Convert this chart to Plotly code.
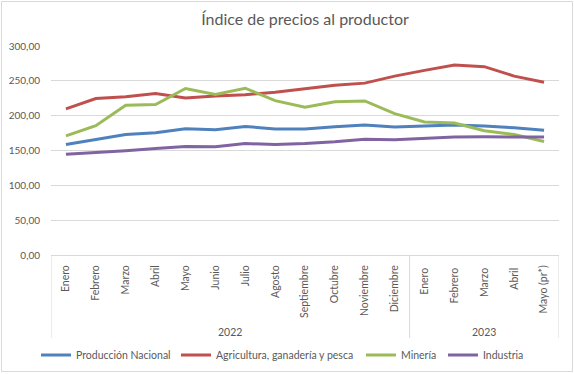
import plotly.graph_objects as go

months = ["Enero", "Febrero", "Marzo", "Abril", "Mayo", "Junio", "Julio", "Agosto",
          "Septiembre", "Octubre", "Noviembre", "Diciembre",
          "Enero ", "Febrero ", "Marzo ", "Abril ", "Mayo (pr*)"]
years = ["2022", "2023"]
year_counts = [12, 5]

produccion_nacional = [158.6, 165.4, 173.0, 175.5, 181.2, 179.8, 184.6, 180.8, 180.8,
                       184.0, 186.5, 183.7, 185.0, 186.5, 185.0, 182.6, 179.0]
agricultura = [209.7, 224.5, 227.0, 231.7, 225.5, 228.4, 230.0, 233.6, 238.5,
               243.8, 246.7, 256.8, 265.0, 272.7, 270.3, 256.8, 248.0]
mineria = [171.0, 185.5, 215.0, 216.0, 239.0, 230.3, 239.4, 221.6, 212.0,
           219.8, 221.2, 203.0, 190.9, 189.4, 178.3, 173.0, 163.0]
industria = [144.7, 146.6, 149.5, 152.8, 155.7, 155.3, 160.0, 158.6, 160.0,
             162.5, 166.3, 165.4, 167.8, 169.2, 169.7, 169.7, 169.2]

series = [
    ("Producción Nacional", produccion_nacional, "#4F81BD"),
    ("Agricultura, ganadería y pesca", agricultura, "#C0504D"),
    ("Minería", mineria, "#9BBB59"),
    ("Industria", industria, "#8064A2"),
]

FONT = "Lato"
TXT = "#595959"
GRID = "#d9d9d9"

W, H = 574, 374
ml, mr, mt, mb = 51, 15, 46, 119
pw, ph = W - ml - mr, H - mt - mb

legend_names = ["legend", "legend2", "legend3", "legend4"]
legend_px = [36, 176, 361, 443]

fig = go.Figure()
for (name, vals, color), lg in zip(series, legend_names):
    fig.add_trace(go.Scatter(x=months, y=vals, mode="lines", name=name, legend=lg,
                             line=dict(color=color, width=3)))

# group dividers and year labels
shapes = []
annotations = []
start = 0
bounds = [-0.5]
for yr, cnt in zip(years, year_counts):
    end = start + cnt
    bounds.append(end - 0.5)
    annotations.append(dict(x=(start + end - 1) / 2, y=-(332 - 255) / ph, xref="x", yref="paper",
                            text=yr, showarrow=False, yanchor="middle",
                            font=dict(family=FONT, size=10.5, color=TXT)))
    start = end
for b in bounds:
    shapes.append(dict(type="line", xref="x", yref="paper", x0=b, x1=b, y0=0,
                       y1=-(338 - 255) / ph, line=dict(color=GRID, width=1)))
# chart border
shapes.append(dict(type="rect", xref="paper", yref="paper",
                   x0=-(ml - 1.5) / pw, x1=1 + (mr - 1.5) / pw,
                   y0=-(mb - 2.5) / ph, y1=1 + (mt - 1.5) / ph,
                   line=dict(color="#d9d9d9", width=1), fillcolor="rgba(0,0,0,0)"))

layout_legends = {}
for lg, px in zip(legend_names, legend_px):
    layout_legends[lg] = dict(orientation="h", xref="container", yref="container",
                              x=px / W, xanchor="left", y=1 - 355 / H, yanchor="middle",
                              font=dict(family=FONT, size=10.5, color=TXT),
                              bgcolor="rgba(0,0,0,0)")

fig.update_layout(
    width=W, height=H,
    margin=dict(l=ml, r=mr, t=mt, b=mb, autoexpand=False),
    paper_bgcolor="white", plot_bgcolor="white",
    separators=",.",
    title=dict(text="Índice de precios al productor", x=0.5, xref="paper", xanchor="center",
               yref="container", y=1 - 19 / H, yanchor="middle",
               font=dict(family=FONT, size=16, color=TXT)),
    xaxis=dict(type="category", tickangle=-90, showgrid=False, showline=True,
               linecolor=GRID, linewidth=1, ticks="", range=[-0.5, len(months) - 0.5],
               automargin=False,
               tickfont=dict(family=FONT, size=10.5, color=TXT), ticklabelstandoff=5),
    yaxis=dict(range=[0, 300], dtick=50, tickformat=".2f", showgrid=True,
               gridcolor=GRID, gridwidth=1, zeroline=False, showline=False, ticks="",
               automargin=False,
               tickfont=dict(family=FONT, size=10, color=TXT), ticklabelstandoff=10),
    shapes=shapes,
    annotations=annotations,
    showlegend=True,
    **layout_legends,
)

fig.write_html("out.html",
               config={"displayModeBar": False},
               post_script="document.body.style.margin='0';document.body.style.overflow='hidden';")
